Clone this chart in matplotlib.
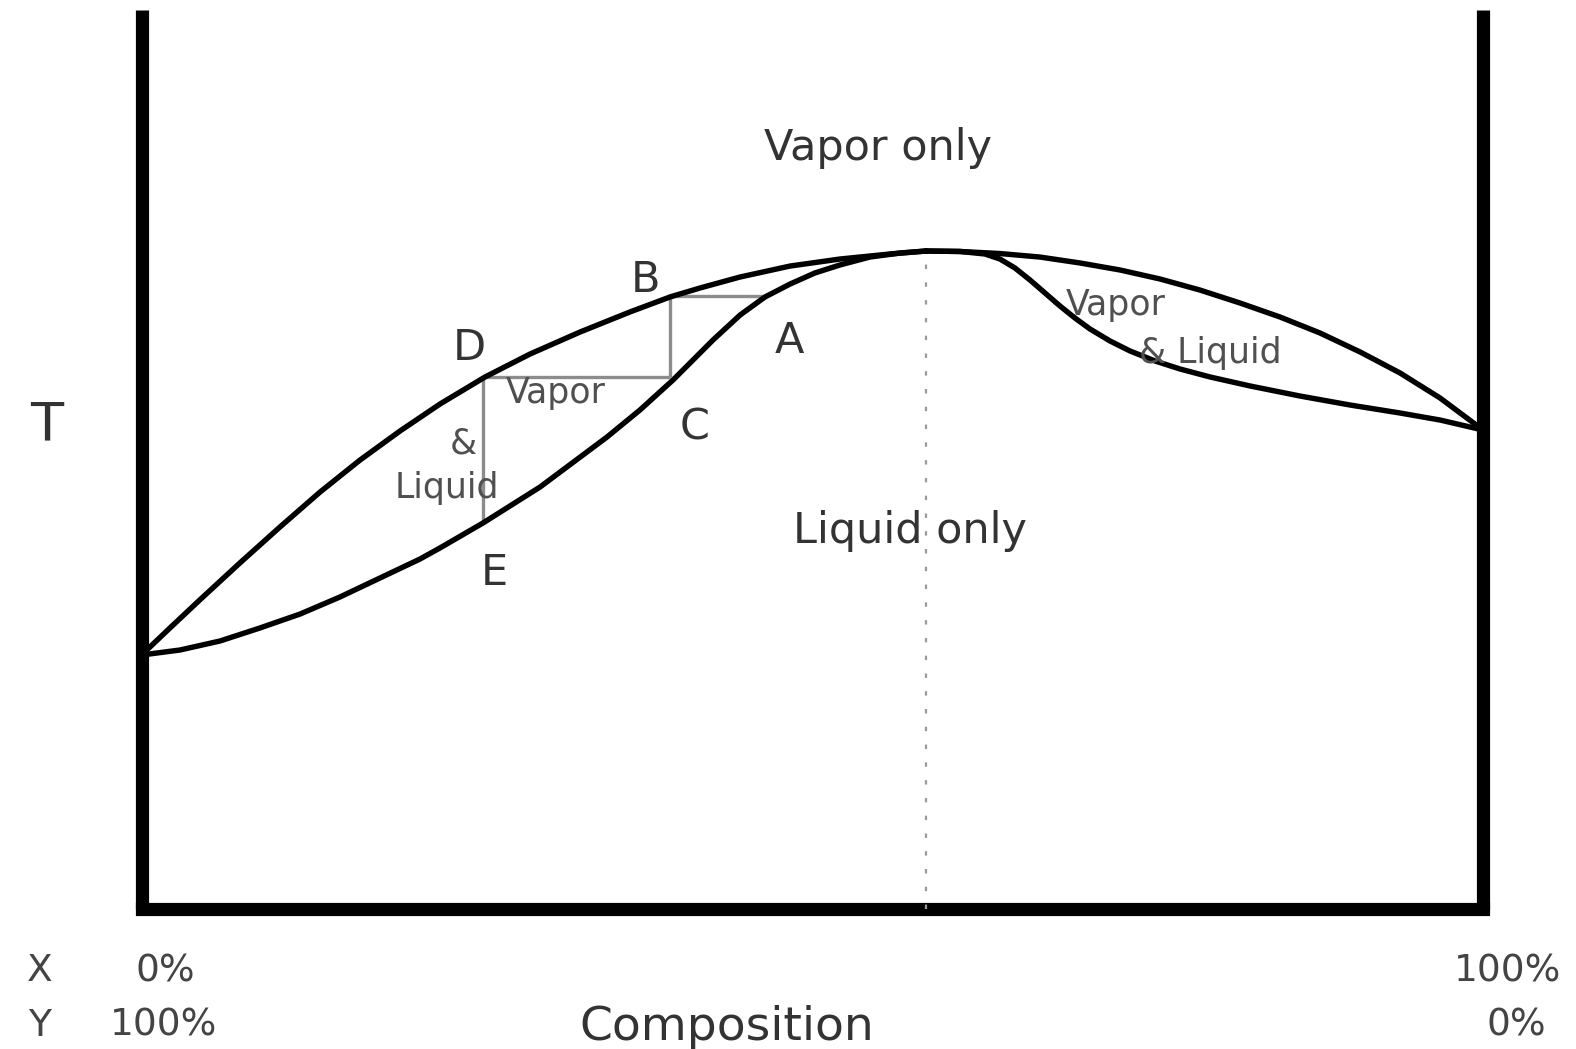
import matplotlib
matplotlib.use('Agg')
import matplotlib.pyplot as plt

# ---- data (composition %, temperature in arbitrary units) ----
dew_left_x = [0, 2.12, 4.36, 7.34, 10.32, 13.31, 16.29, 19.27, 22.25, 25.61, 28.96,
              32.69, 36.41, 39.40, 41.64, 44.62, 48.35, 52.07, 55.80, 58.48]
dew_left_t = [28.25, 31.26, 34.40, 38.50, 42.49, 46.38, 49.94, 53.17, 56.17, 59.18, 61.73,
              64.18, 66.41, 68.08, 69.08, 70.30, 71.52, 72.30, 72.86, 73.19]

bub_left_x = [0, 2.87, 5.85, 8.83, 11.82, 14.80, 17.78, 20.76, 22.25, 25.46, 29.71,
              34.70, 37.16, 39.62, 42.60, 44.62, 46.48, 48.35, 50.20, 52.07, 54.30,
              56.54, 58.48]
bub_left_t = [28.25, 28.81, 29.81, 31.26, 32.81, 34.71, 36.82, 38.93, 40.16, 42.94, 46.94,
              52.50, 55.51, 58.84, 63.29, 66.07, 68.08, 69.52, 70.75, 71.64, 72.52,
              72.97, 73.19]

dew_right_x = [58.48, 61.01, 63.99, 66.97, 69.96, 72.94, 75.92, 78.90, 81.88, 84.87,
               87.85, 90.84, 93.82, 96.80, 100]
dew_right_t = [73.19, 73.14, 72.91, 72.52, 71.86, 71.08, 70.08, 68.85, 67.41, 65.85,
               64.07, 61.96, 59.62, 56.84, 53.28]

bub_right_x = [58.48, 61.01, 62.87, 63.99, 65.11, 66.23, 67.35, 68.47, 69.58, 70.70,
               72.20, 73.69, 75.55, 77.41, 79.65, 82.63, 86.36, 90.09, 93.82, 96.80, 100]
bub_right_t = [73.19, 73.14, 72.86, 72.30, 71.30, 69.97, 68.52, 67.07, 65.74, 64.52,
               63.18, 62.07, 60.96, 60.07, 59.18, 58.18, 57.06, 56.06, 55.17, 54.39, 53.28]

# tie-line corner points
pt_A = (46.48, 68.19)
pt_B = (39.40, 68.19)
pt_C = (39.40, 59.18)
pt_D = (25.46, 59.18)
pt_E = (25.46, 42.94)

azeotrope_x = 58.5
azeotrope_top = 71.9

W, H = 1576, 1049
fig = plt.figure(figsize=(W / 100, H / 100), dpi=100)
ax = fig.add_axes([141.5 / W, 1 - 909 / H, (1483 - 141.5) / W, (909 - 10) / H])
ax.set_xlim(0, 100)
ax.set_ylim(0, 100)
ax.axis('off')

# frame walls
ax.plot([0, 0], [0, 100], color='black', lw=9.5, solid_capstyle='butt', clip_on=False)
ax.plot([100, 100], [0, 100], color='black', lw=9.5, solid_capstyle='butt', clip_on=False)
ax.plot([0, 100], [0, 0], color='black', lw=9.5, solid_capstyle='projecting', clip_on=False)

# dotted azeotrope line
ax.plot([azeotrope_x, azeotrope_x], [0, azeotrope_top], color='#9a9a9a', lw=1.6,
        linestyle=(0, (2, 6)), clip_on=False)

# tie lines
tie_col = '#8c8c8c'
for p, q in [(pt_B, pt_A), (pt_B, pt_C), (pt_D, pt_C), (pt_D, pt_E)]:
    ax.plot([p[0], q[0]], [p[1], q[1]], color=tie_col, lw=2.4, solid_capstyle='butt')

# curves
for xs, ts in [(dew_left_x, dew_left_t), (bub_left_x, bub_left_t),
               (dew_right_x, dew_right_t), (bub_right_x, bub_right_t)]:
    ax.plot(xs, ts, color='black', lw=3.9, solid_joinstyle='round',
            solid_capstyle='round', clip_on=False)

fam = 'DejaVu Sans'
big = dict(fontsize=31, color='#333333', family=fam, ha='center', va='baseline')
small = dict(fontsize=25, color='#505050', family=fam, ha='center', va='baseline')

ax.text(54.9, 83.3, 'Vapor only', **big)
ax.text(57.3, 40.7, 'Liquid only', **big)
ax.text(48.3, 61.8, 'A', **big)
ax.text(37.6, 68.6, 'B', **big)
ax.text(41.2, 52.2, 'C', **big)
ax.text(24.4, 61.1, 'D', **big)
ax.text(26.3, 36.0, 'E', **big)

ax.text(30.9, 56.3, 'Vapor', **small)
ax.text(24.0, 50.7, '&', **small)
ax.text(22.8, 45.7, 'Liquid', **small)
ax.text(72.6, 66.1, 'Vapor', **small)
ax.text(79.7, 60.7, '& Liquid', **small)


def ftext(px, py, s, size, color='#444444'):
    fig.text(px / W, 1 - py / H, s, fontsize=size, color=color, family=fam,
             ha='center', va='baseline')


ftext(46.5, 440, 'T', 39, '#333333')
ftext(727, 1040, 'Composition', 34, '#333333')
ftext(40, 981, 'X', 27)
ftext(165, 981, '0%', 27)
ftext(40, 1036, 'Y', 27)
ftext(164, 1036, '100%', 27)
ftext(1508, 981, '100%', 27)
ftext(1516, 1036, '0%', 27)

fig.savefig('out.png', dpi=100, facecolor='white')
